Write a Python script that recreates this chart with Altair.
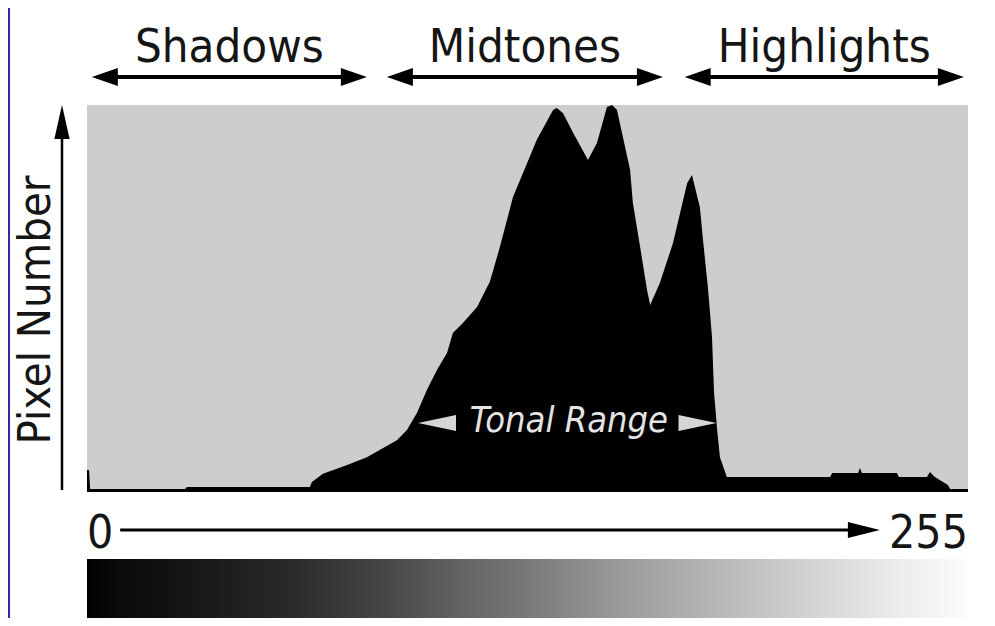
import altair as alt
import pandas as pd

# Histogram profile (tone 0-255, relative pixel count 0-100)
tone = [0, 0.6, 0.9, 28.4, 28.9, 64.5, 65.1, 68.3, 75.3, 81.0, 89.7, 92.6, 95.5, 98.4, 101.3,
        104.2, 105.9, 108.8, 112.9, 116.6, 119.5, 123.3, 127.4, 130.2, 134.9, 136.0, 137.8, 140.7,
        145.0, 147.6, 150.5, 152.0, 153.4, 157.2, 158.0, 160.1, 162.1, 163.0, 165.8, 169.6, 173.7,
        175.1, 177.4, 178.3, 179.7, 180.9, 181.5, 182.4, 183.2, 185.2, 215.1, 215.7, 223.2, 223.7,
        224.3, 234.4, 235.0, 243.1, 244.0, 245.4, 249.2, 249.8, 255]
count = [5.7, 5.7, 0.8, 0.8, 1.3, 1.3, 2.6, 4.7, 7.0, 9.0, 13.4, 16.0, 20.4, 26.4, 31.5,
         35.9, 41.1, 43.7, 47.8, 54.3, 63.3, 76.2, 85.0, 91.0, 98.7, 99.2, 97.9, 92.8,
         85.8, 90.2, 99.5, 100, 98.7, 83.2, 74.7, 63.3, 52.2, 48.3, 54.0, 64.3, 79.8,
         81.9, 73.6, 65.1, 53.0, 40.1, 25.6, 16.0, 9.0, 3.9, 3.9, 4.9, 4.9, 6.2,
         4.9, 4.9, 3.9, 3.9, 5.2, 3.9, 1.8, 0.8, 0.8]

zone_names = ["Shadows", "Midtones", "Highlights"]
zone_start = [1.4, 86.8, 173.0]
zone_end = [81.0, 166.7, 253.8]

tonal_start = 95.8
tonal_end = 182.2
axis_start = 9.6
axis_tip = 229.5
axis_labels = ["0", "255"]
axis_label_tone = [0, 255]

# gray ramp of the tonal bar (offset along 0-255, gray level)
ramp_offset = [0, 0.037, 0.128, 0.242, 0.333, 0.412, 0.497, 0.605, 0.718, 0.832, 0.923, 0.98, 1]
ramp_color = ["#000000", "#0a0a0a", "#181818", "#2c2c2c", "#454545", "#5f5f5f", "#787878",
              "#9a9a9a", "#b8b8b8", "#d6d6d6", "#ececec", "#f8f8f8", "#fdfdfd"]

FONT = "'DejaVu Sans Condensed', 'Liberation Sans Narrow', 'DejaVu Sans', sans-serif"

hist = pd.DataFrame({"tone": tone, "count": count})
zones = pd.DataFrame({"name": zone_names, "start": zone_start, "end": zone_end})
zones["mid"] = (zones["start"] + zones["end"]) / 2

xs = alt.Scale(domain=[0, 255], range=[79, 960], nice=False, zero=False)
ys = alt.Scale(domain=[0, 100], range=[484, 97], nice=False, zero=False)

one = pd.DataFrame({"a": [0]})

# gray plot background
bg = alt.Chart(pd.DataFrame({"x0": [0], "x1": [255], "y0": [0], "y1": [100]})).mark_rect(
    color="#cdcdcd").encode(
    x=alt.X("x0:Q", scale=xs, axis=None), x2="x1:Q",
    y=alt.Y("y0:Q", scale=ys, axis=None), y2="y1:Q")

area = alt.Chart(hist).mark_area(color="#000000", interpolate="linear").encode(
    x=alt.X("tone:Q", scale=xs, axis=None),
    y=alt.Y("count:Q", scale=ys, axis=None))

# blue strip at left edge
strip = alt.Chart(one).mark_rect(color="#2e2b9c").encode(
    x=alt.value(0), x2=alt.value(2), y=alt.value(0), y2=alt.value(610))

# zone labels and arrows
zone_text = alt.Chart(zones).mark_text(font=FONT, fontSize=47, color="#151515",
                                       baseline="alphabetic", align="center").encode(
    x=alt.X("mid:Q", scale=xs, axis=None), y=alt.value(54), text="name:N")
zone_line = alt.Chart(zones).mark_rule(color="#000000", strokeWidth=4, xOffset=10, x2Offset=-10).encode(
    x=alt.X("start:Q", scale=xs, axis=None), x2="end:Q", y=alt.value(69))
head_left = "M0,0L2,-0.7L2,0.7Z"
head_right = "M0,0L-2,-0.7L-2,0.7Z"
zone_hl = alt.Chart(zones).mark_point(shape=head_left, filled=True, size=676, color="#000000",
                                      opacity=1, strokeWidth=0).encode(
    x=alt.X("start:Q", scale=xs, axis=None), y=alt.value(69))
zone_hr = alt.Chart(zones).mark_point(shape=head_right, filled=True, size=676, color="#000000",
                                      opacity=1, strokeWidth=0).encode(
    x=alt.X("end:Q", scale=xs, axis=None), y=alt.value(69))

# y axis arrow
y_line = alt.Chart(one).mark_rule(color="#000000", strokeWidth=2.5).encode(
    x=alt.value(54), y=alt.datum(0.5, scale=ys), y2=alt.datum(92))
y_head = alt.Chart(one).mark_point(shape="M0,0L-0.45,2L0.45,2Z", filled=True, size=1156,
                                   color="#000000", opacity=1, strokeWidth=0).encode(
    x=alt.value(54), y=alt.datum(100, scale=ys))
y_text = alt.Chart(one).mark_text(text="Pixel Number", font=FONT, fontSize=45, angle=270,
                                  color="#151515", baseline="alphabetic", align="center").encode(
    x=alt.value(42), y=alt.value(302))

# tonal range annotation
tonal = pd.DataFrame({"s": [tonal_start], "e": [tonal_end], "m": [(tonal_start + tonal_end) / 2 + 0.5]})
t_text = alt.Chart(tonal).mark_text(text="Tonal Range", font=FONT, fontSize=36, fontStyle="italic",
                                    color="#e4e4e4", baseline="alphabetic", align="center").encode(
    x=alt.X("m:Q", scale=xs, axis=None), y=alt.value(424))
t_hl = alt.Chart(tonal).mark_point(shape="M0,0L2,-0.42L2,0.42Z", filled=True, size=1444,
                                   color="#d6d6d6", opacity=1, strokeWidth=0).encode(
    x=alt.X("s:Q", scale=xs, axis=None), y=alt.value(415))
t_hr = alt.Chart(tonal).mark_point(shape="M0,0L-2,-0.42L-2,0.42Z", filled=True, size=1444,
                                   color="#d6d6d6", opacity=1, strokeWidth=0).encode(
    x=alt.X("e:Q", scale=xs, axis=None), y=alt.value(415))

# 0 -> 255 axis
ax = pd.DataFrame({"s": [axis_start], "e": [axis_tip]})
ax_line = alt.Chart(ax).mark_rule(color="#000000", strokeWidth=3, x2Offset=-12).encode(
    x=alt.X("s:Q", scale=xs, axis=None), x2="e:Q", y=alt.value(522))
ax_head = alt.Chart(ax).mark_point(shape="M0,0L-2,-0.5L-2,0.5Z", filled=True, size=1024,
                                   color="#000000", opacity=1, strokeWidth=0).encode(
    x=alt.X("e:Q", scale=xs, axis=None), y=alt.value(522))
labs = pd.DataFrame({"t": axis_label_tone, "lab": axis_labels})
ax_l0 = alt.Chart(labs.iloc[[0]]).mark_text(font=FONT, fontSize=46, color="#151515",
                                           baseline="alphabetic", align="left").encode(
    x=alt.X("t:Q", scale=xs, axis=None), y=alt.value(540), text="lab:N")
ax_l1 = alt.Chart(labs.iloc[[1]]).mark_text(font=FONT, fontSize=46, color="#151515",
                                           baseline="alphabetic", align="right").encode(
    x=alt.X("t:Q", scale=xs, axis=None), y=alt.value(540), text="lab:N")

# tonal gradient bar
grad = alt.Chart(pd.DataFrame({"x0": [0], "x1": [255]})).mark_rect(
    color=alt.Gradient(gradient="linear", x1=0, x2=1, y1=0, y2=0,
                       stops=[alt.GradientStop(color=c, offset=o)
                              for o, c in zip(ramp_offset, ramp_color)])).encode(
    x=alt.X("x0:Q", scale=xs, axis=None), x2="x1:Q", y=alt.value(551), y2=alt.value(610))

chart = alt.layer(bg, area, strip, zone_text, zone_line, zone_hl, zone_hr, y_line, y_head, y_text,
                  t_text, t_hl, t_hr, ax_line, ax_head, ax_l0, ax_l1, grad).properties(
    width=979, height=610, padding=0, autosize=alt.AutoSizeParams(type="none"),
    background="#ffffff").configure_view(stroke=None)

chart.save("out.html", embed_options={"renderer": "svg", "actions": False})
